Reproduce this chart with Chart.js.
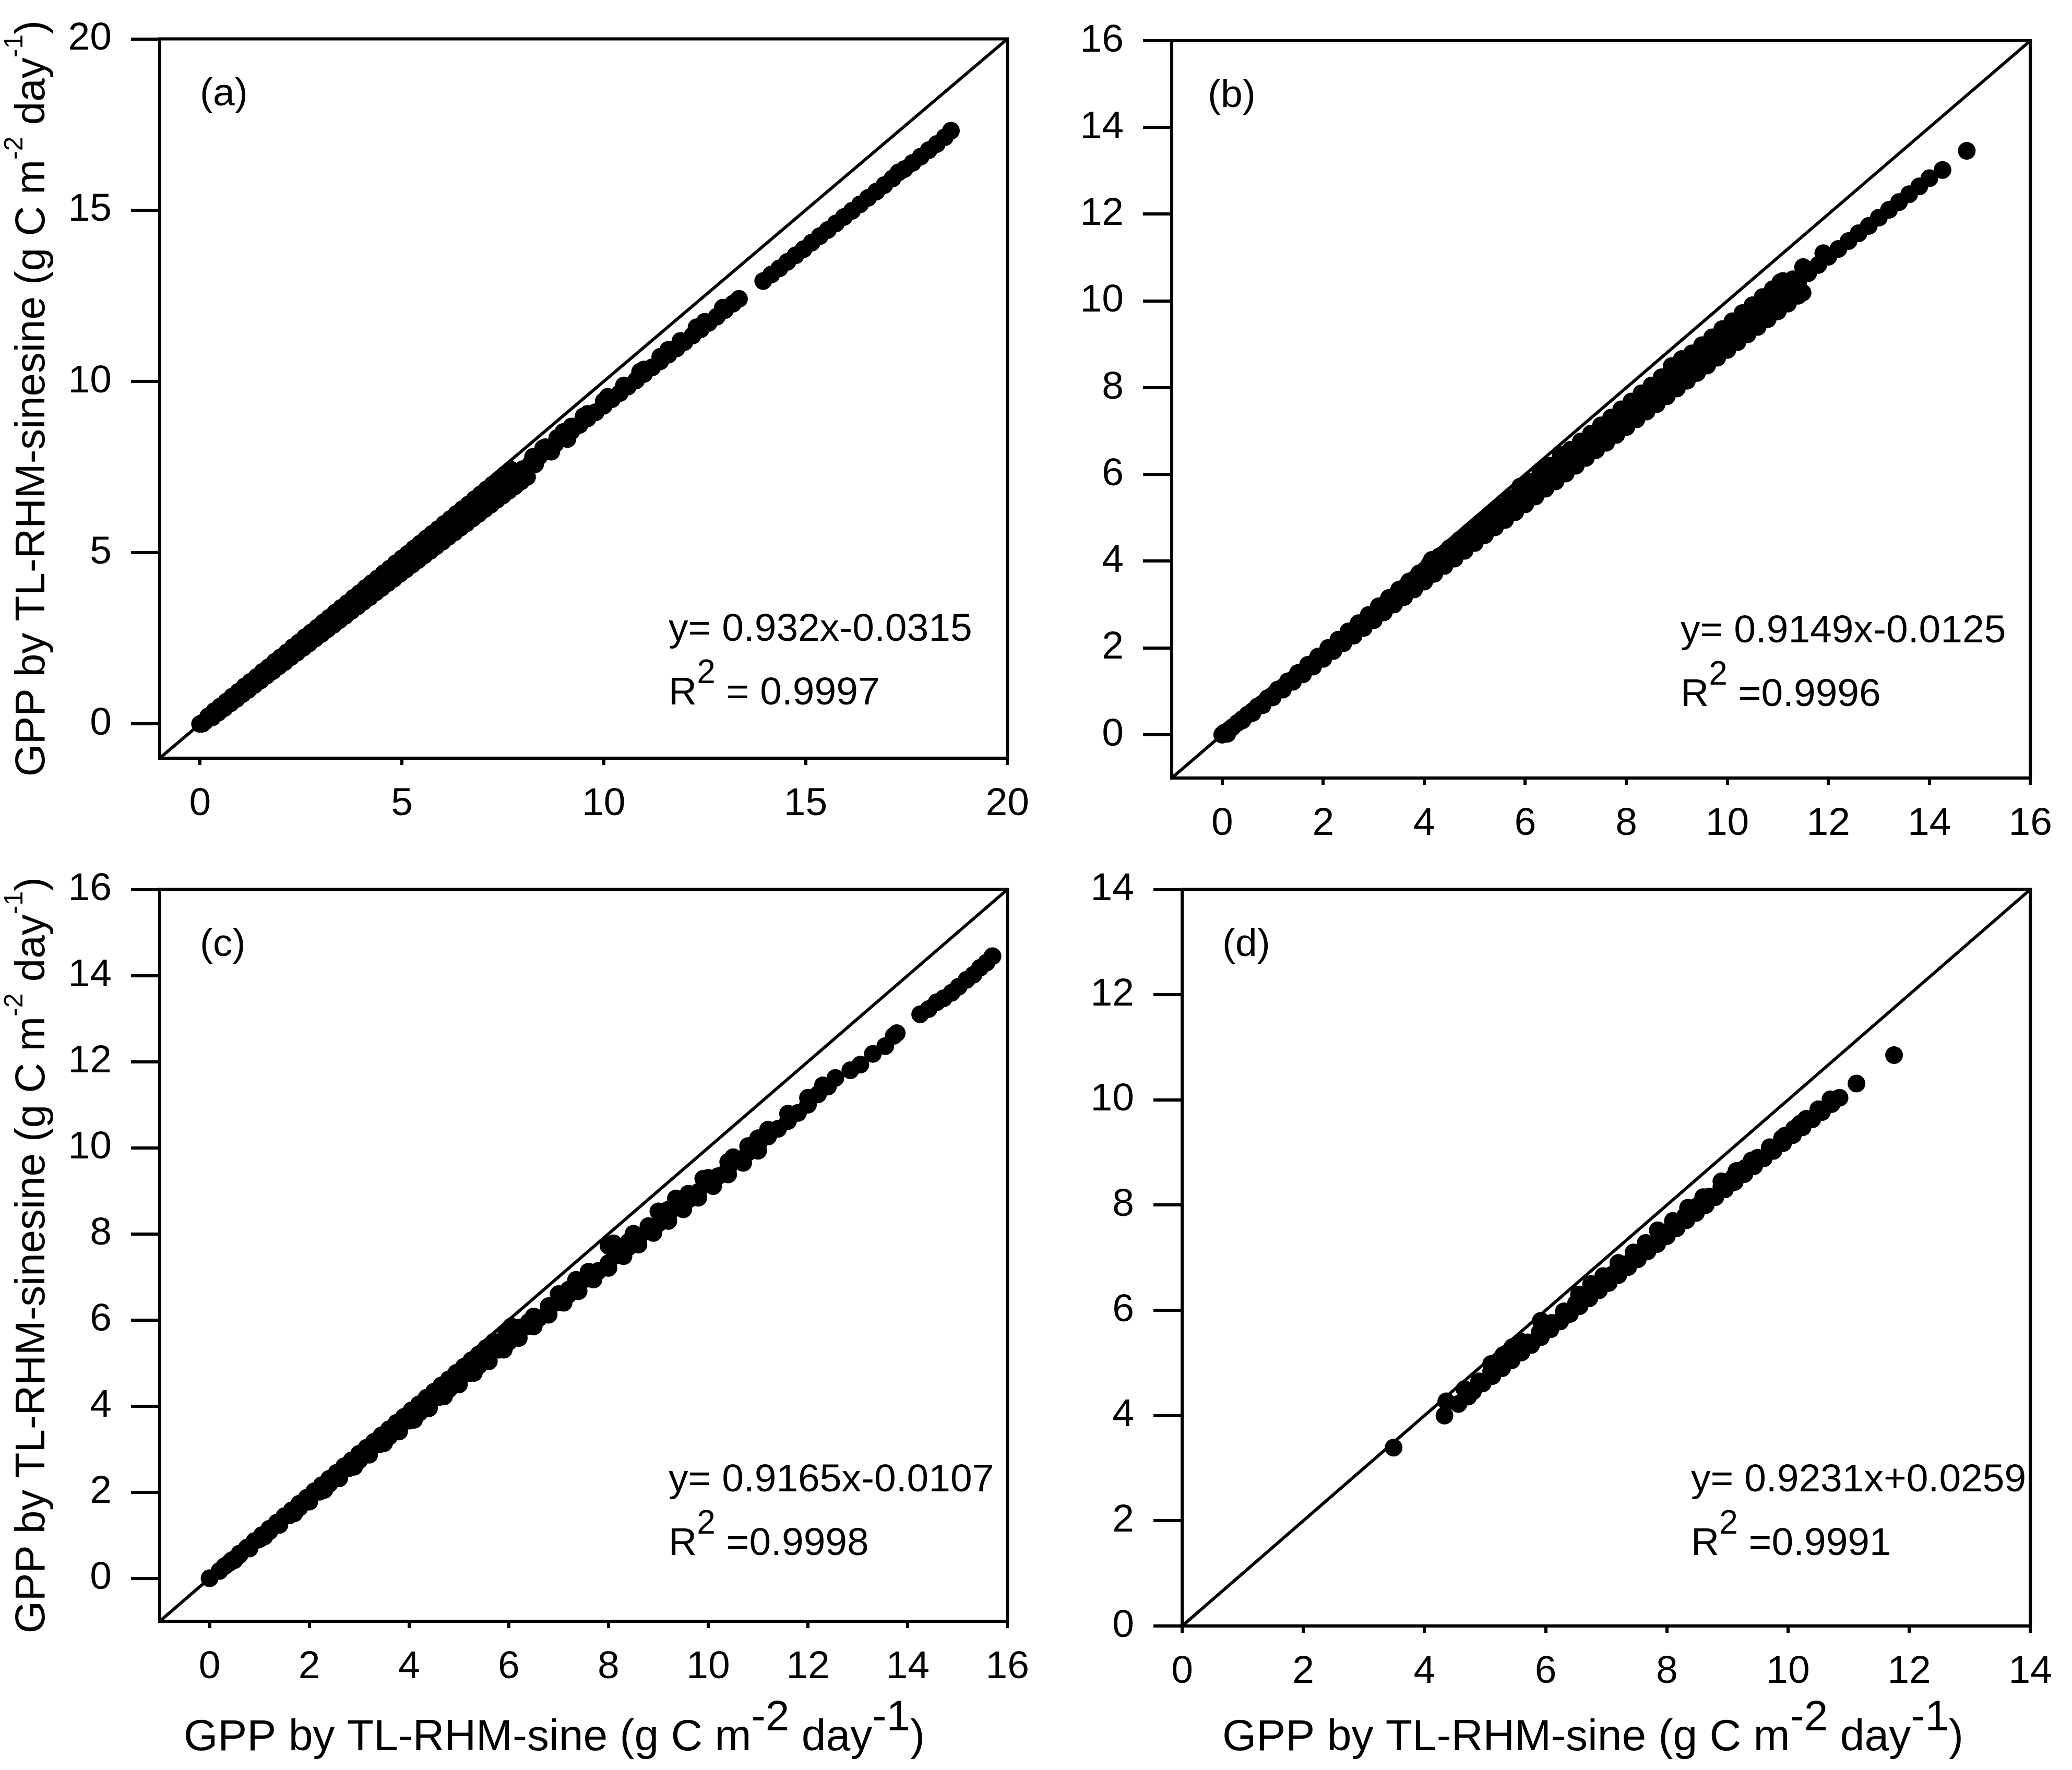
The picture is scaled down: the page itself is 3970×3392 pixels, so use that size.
<!DOCTYPE html>
<html>
<head>
<meta charset="utf-8">
<script src="https://cdn.jsdelivr.net/npm/chart.js@4.4.0/dist/chart.umd.min.js"></script>
<style>
  html, body { margin: 0; padding: 0; background: #fff; }
  body { width: 3970px; height: 3392px; position: relative; overflow: hidden; }
  canvas { position: absolute; }
</style>
</head>
<body>
<canvas id="pa"></canvas>
<canvas id="pb"></canvas>
<canvas id="pc"></canvas>
<canvas id="pd"></canvas>
<script>
// axis limits (also the ends of the 1:1 line) and tick values
const aRange = [-1, 20];
const bRange = [-1, 16];
const cRange = [-1, 16];
const dRange = [0, 14];
const aTicks = [0, 5, 10, 15, 20];
const bTicks = [0, 2, 4, 6, 8, 10, 12, 14, 16];
const cTicks = [0, 2, 4, 6, 8, 10, 12, 14, 16];
const dTicks = [0, 2, 4, 6, 8, 10, 12, 14];

// (a) GPP sine (x) vs sinesine (y)
const aX = [
  0, 0.06, 0.12, 0.2,
  0.35, 0.5, 0.65, 0.8, 0.95, 1.1, 1.25, 1.4, 1.55, 1.7,
  1.85, 2.0, 2.15, 2.3, 2.45, 2.6, 2.75, 2.9, 3.05, 3.2,
  3.35, 3.5, 3.65, 3.8, 3.95, 4.1, 4.25, 4.4, 4.55, 4.7,
  4.85, 5.0, 5.15, 5.3, 5.45, 5.6, 5.75, 5.9, 6.05, 6.2,
  6.35, 6.5, 6.65, 6.8, 6.95, 7.1, 7.25, 7.4, 7.55, 7.7,
  7.85, 8.0,
  8.2, 8.4, 8.6, 8.8, 9.0, 9.2, 9.4, 9.6, 9.8, 10.0,
  10.2, 10.4, 10.6, 10.8, 11.0, 11.2, 11.4, 11.6, 11.8, 12.0,
  12.2, 12.4, 12.6, 12.8, 13.0, 13.2, 13.35,
  8.5, 9.0, 9.5, 10.1, 10.9, 11.6, 12.3,
  8.25, 8.55, 8.85, 9.2, 9.6, 10.0, 10.5, 11.0, 11.4, 11.9,
  12.5, 12.95, 8.3, 8.7, 9.1,
  0.2, 0.35, 0.5, 0.65, 0.8, 0.95, 1.1, 1.25, 1.4, 1.55,
  1.7, 1.85, 2.0, 2.15, 2.3, 2.45, 2.6, 2.75, 2.9, 3.05,
  3.2, 3.35, 3.5, 3.65, 3.8, 3.95, 4.1, 4.25, 4.4, 4.55,
  4.7, 4.85, 5.0, 5.15, 5.3, 5.45, 5.6, 5.75, 5.9, 6.05,
  6.2, 6.35, 6.5, 6.65, 6.8, 6.95, 7.1, 7.25, 7.4, 7.55, 7.7,
  0.3, 0.45, 0.6, 0.75, 0.9, 1.05, 1.2, 1.35, 1.5, 1.65,
  1.8, 1.95, 2.1, 2.25, 2.4, 2.55, 2.7, 2.85, 3.0, 3.15,
  3.3, 3.45, 3.6, 3.75, 3.9, 4.05, 4.2, 4.35, 4.5, 4.65,
  4.8, 4.95, 5.1, 5.25, 5.4, 5.55, 5.7, 5.85, 6.0, 6.15,
  6.3, 6.45, 6.6, 6.75, 6.9, 7.05, 7.2, 7.35, 7.5, 7.65,
  7.8, 7.95, 8.1,
  13.95, 14.15, 14.35, 14.55, 14.75, 14.95, 15.15, 15.35, 15.55, 15.75,
  15.95, 16.15, 16.35, 16.55, 16.75, 16.95, 17.15, 17.3, 17.45, 17.65,
  17.85, 18.05, 18.25, 18.45, 18.6
];
const aY = [
  0, 0.01, 0.07, 0.16,
  0.30, 0.44, 0.58, 0.72, 0.86, 1.00, 1.14, 1.28, 1.42, 1.56,
  1.70, 1.84, 1.98, 2.12, 2.26, 2.40, 2.54, 2.68, 2.82, 2.96,
  3.10, 3.24, 3.38, 3.52, 3.66, 3.80, 3.94, 4.08, 4.22, 4.36,
  4.50, 4.64, 4.78, 4.92, 5.06, 5.20, 5.34, 5.48, 5.62, 5.76,
  5.90, 6.04, 6.18, 6.32, 6.46, 6.60, 6.74, 6.88, 7.02, 7.16,
  7.30, 7.44,
  7.62, 7.81, 7.99, 8.18, 8.36, 8.55, 8.73, 8.92, 9.10, 9.29,
  9.48, 9.66, 9.85, 10.03, 10.22, 10.41, 10.59, 10.78, 10.96, 11.15,
  11.34, 11.52, 11.71, 11.89, 12.08, 12.27, 12.41,
  8.05, 8.52, 8.98, 9.55, 10.28, 10.92, 11.58,
  7.80, 8.08, 8.35, 8.68, 9.05, 9.42, 9.88, 10.35, 10.72, 11.18,
  11.74, 12.15, 7.58, 7.95, 8.32,
  0.22, 0.37, 0.51, 0.65, 0.80, 0.94, 1.09, 1.23, 1.37, 1.52,
  1.66, 1.81, 1.95, 2.09, 2.24, 2.38, 2.53, 2.67, 2.81, 2.96,
  3.10, 3.25, 3.39, 3.53, 3.68, 3.82, 3.97, 4.11, 4.25, 4.40,
  4.54, 4.69, 4.83, 4.97, 5.12, 5.26, 5.41, 5.55, 5.69, 5.84,
  5.98, 6.13, 6.27, 6.41, 6.56, 6.70, 6.85, 6.99, 7.13, 7.28, 7.42,
  0.19, 0.33, 0.46, 0.60, 0.73, 0.87, 1.00, 1.14, 1.27, 1.41,
  1.54, 1.68, 1.81, 1.95, 2.08, 2.22, 2.35, 2.49, 2.62, 2.76,
  2.89, 3.03, 3.16, 3.30, 3.43, 3.57, 3.70, 3.84, 3.97, 4.11,
  4.24, 4.38, 4.51, 4.65, 4.78, 4.92, 5.05, 5.19, 5.32, 5.46,
  5.59, 5.73, 5.86, 6.00, 6.13, 6.27, 6.40, 6.54, 6.67, 6.81,
  6.94, 7.08, 7.21,
  12.93, 13.12, 13.30, 13.49, 13.68, 13.86, 14.05, 14.24, 14.42, 14.61,
  14.80, 14.98, 15.17, 15.36, 15.54, 15.73, 15.92, 16.10, 16.20, 16.38,
  16.56, 16.75, 16.93, 17.13, 17.32
];

// (b)
const bX = [
  0, 0.2, 0.4, 0.6, 0.8, 1.0, 1.2, 1.4, 1.6, 1.8,
  2.0, 2.2, 2.4, 2.6, 2.8, 3.0, 3.2, 3.4, 3.6, 3.8,
  4.0, 4.2, 4.4, 4.6, 4.8, 5.0, 5.2, 5.4, 5.6, 5.8,
  6.0, 6.2, 6.4, 6.6, 6.8, 7.0, 7.2, 7.4, 7.6, 7.8,
  8.0, 8.2, 8.4, 8.6, 8.8, 9.0, 9.2, 9.4, 9.6, 9.8,
  10.0, 10.2, 10.4, 10.6, 10.8, 11.0, 11.2, 11.4, 11.6, 11.8,
  12.0, 12.2, 12.4, 12.6, 12.8, 13.0, 13.2, 13.4, 13.6, 13.8,
  14.0, 14.26, 14.74,
  0.05, 0.1, 0.15,
  0.3, 0.5, 0.7, 0.9, 1.1, 1.3, 1.5, 1.7, 1.9, 2.1,
  2.3, 2.5, 2.7, 2.9, 3.1, 3.3, 3.5, 3.7, 3.9, 4.1,
  4.3, 4.5, 4.7, 4.9, 5.1, 5.3, 5.5, 5.7, 5.9,
  6.1, 6.3, 6.5, 6.7, 6.9, 7.1, 7.3, 7.5, 7.7, 7.9,
  8.1, 8.3, 8.5, 8.7, 8.9, 9.1, 9.3, 9.5, 9.7, 9.9,
  10.1, 10.3, 10.5, 10.7, 10.9, 11.1,
  2.3, 2.6, 2.9, 3.2, 3.5, 3.8, 4.1, 4.4, 4.7, 5.0,
  5.3, 5.6, 5.9, 6.2, 6.5, 6.8, 7.1, 7.4, 7.7, 8.0,
  8.3, 8.6, 8.9, 9.2, 9.5, 9.8, 10.1, 10.4, 10.7, 11.0,
  11.3,
  3.5, 3.8, 4.1, 4.4, 4.7, 5.0, 5.3, 5.6, 5.9, 6.2,
  6.5, 6.8, 7.1, 7.4, 7.7, 8.0, 8.3, 8.6, 8.9, 9.2,
  9.5, 9.8, 10.1, 10.4, 10.7, 11.0, 11.3,
  0.4, 0.6, 0.8, 1.0, 1.2, 1.4, 1.6, 1.8, 2.0, 2.2,
  2.4, 2.6, 2.8, 3.0, 3.2, 3.4, 3.6, 3.8, 4.0, 4.2,
  4.4, 4.6, 4.8, 5.0, 5.2, 5.4, 5.6, 5.8, 6.0, 6.2,
  6.4, 6.6, 6.8, 7.0, 7.2, 7.4, 7.6, 7.8, 8.0, 8.2,
  8.4, 8.6, 8.8, 9.0, 9.2, 9.4, 9.6, 9.8, 10.0, 10.2,
  10.4, 10.6, 10.8, 11.0, 11.2, 11.4,
  4.15, 5.9, 6.3, 6.7, 8.9, 9.1, 11.05, 11.5, 11.9, 11.49
];
const bY = [
  0.00, 0.17, 0.36, 0.54, 0.72, 0.91, 1.09, 1.27, 1.45, 1.64,
  1.82, 2.00, 2.19, 2.37, 2.55, 2.74, 2.92, 3.10, 3.28, 3.47,
  3.65, 3.83, 4.02, 4.20, 4.38, 4.57, 4.75, 4.93, 5.11, 5.30,
  5.48, 5.66, 5.85, 6.03, 6.21, 6.40, 6.58, 6.76, 6.94, 7.13,
  7.31, 7.49, 7.68, 7.86, 8.04, 8.23, 8.41, 8.59, 8.77, 8.96,
  9.14, 9.32, 9.51, 9.69, 9.87, 10.06, 10.24, 10.42, 10.64, 10.83,
  11.02, 11.20, 11.38, 11.56, 11.73, 11.92, 12.10, 12.28, 12.46, 12.64,
  12.83, 13.02, 13.46,
  0.05, 0.02, 0.12,
  0.27, 0.46, 0.65, 0.84, 1.04, 1.23, 1.42, 1.61, 1.80, 2.00,
  2.19, 2.38, 2.57, 2.76, 2.96, 3.15, 3.34, 3.53, 3.72, 3.92,
  4.11, 4.30, 4.49, 4.68, 4.88, 5.07, 5.26, 5.45, 5.64,
  5.83, 6.02, 6.20, 6.39, 6.57, 6.76, 6.94, 7.13, 7.31, 7.50,
  7.68, 7.87, 8.05, 8.24, 8.42, 8.61, 8.79, 8.98, 9.16, 9.35,
  9.53, 9.72, 9.90, 10.09, 10.27, 10.46,
  2.13, 2.41, 2.69, 2.97, 3.25, 3.52, 3.80, 4.08, 4.36, 4.64,
  4.92, 5.20, 5.48, 5.76, 6.04, 6.31, 6.59, 6.87, 7.15, 7.43,
  7.71, 7.99, 8.27, 8.55, 8.83, 9.10, 9.38, 9.66, 9.94, 10.22,
  10.50,
  3.14, 3.41, 3.68, 3.95, 4.22, 4.49, 4.76, 5.03, 5.30, 5.57,
  5.84, 6.11, 6.38, 6.65, 6.92, 7.19, 7.46, 7.73, 8.00, 8.27,
  8.54, 8.81, 9.08, 9.35, 9.62, 9.89, 10.16,
  0.33, 0.50, 0.68, 0.86, 1.04, 1.22, 1.39, 1.57, 1.75, 1.93,
  2.11, 2.28, 2.46, 2.64, 2.82, 3.00, 3.17, 3.35, 3.53, 3.71,
  3.89, 4.06, 4.24, 4.42, 4.60, 4.78, 4.95, 5.13, 5.31, 5.49,
  5.67, 5.84, 6.02, 6.20, 6.38, 6.56, 6.73, 6.91, 7.09, 7.27,
  7.45, 7.62, 7.80, 7.98, 8.16, 8.34, 8.51, 8.69, 8.87, 9.05,
  9.23, 9.40, 9.58, 9.76, 9.94, 10.12,
  4.03, 5.72, 6.08, 6.45, 8.50, 8.66, 10.43, 10.78, 11.10, 10.19
];

// (c)
const cX = [
  0, 0.2, 0.4, 0.6, 0.8, 1.0, 1.2, 1.4, 1.6, 1.8,
  2.0, 2.2, 2.4, 2.6, 2.8, 3.0, 3.2, 3.4, 3.6, 3.8,
  4.0, 4.2, 4.4, 4.6, 4.8, 5.0, 5.2, 5.4, 5.6, 5.8,
  6.0, 6.2, 6.4, 6.6, 6.8, 7.0, 7.2, 7.4, 7.6, 7.8,
  8.0, 8.2, 8.4, 8.6, 8.8, 9.0, 9.2, 9.4, 9.6, 9.8,
  10.0, 10.2, 10.4, 10.6, 10.8, 11.0, 11.2, 11.4, 11.6, 11.8,
  12.0, 12.2, 12.4, 12.55,
  12.85, 13.05, 13.3, 13.55, 13.72, 13.78, 14.25, 14.42, 14.58, 14.72,
  14.88, 15.02, 15.18, 15.32, 15.45, 15.58, 15.7,
  0.3, 0.45, 0.6, 0.75, 0.9, 1.05, 1.2, 1.35, 1.5, 1.65,
  1.8, 1.95, 2.1, 2.25, 2.4, 2.55, 2.7, 2.85, 3.0, 3.15,
  3.3, 3.45, 3.6, 3.75, 3.9, 4.05, 4.2, 4.35, 4.5, 4.65,
  4.8, 4.95, 5.1, 5.25, 5.4, 5.55, 5.7,
  5.95, 6.05, 6.2, 6.5, 7.0, 7.35, 7.6, 8.0, 8.1, 8.5,
  9.0, 9.35, 9.9, 10.5, 11.0,
  6.4, 6.8, 7.2, 7.6, 8.4, 8.8, 9.2, 9.6, 10.0, 10.4,
  10.8, 11.2, 11.6, 12.0, 12.3,
  0.5, 0.8, 1.1, 1.4, 1.7, 2.0, 2.3, 2.6, 2.9, 3.2,
  3.5, 3.8, 4.1, 4.4, 4.7, 5.0, 5.3, 5.6, 5.9, 6.2,
  6.5, 6.8, 7.1, 7.4, 7.7, 8.0, 8.3, 8.6, 8.9, 9.2,
  9.5, 9.8, 10.1, 10.4, 10.7, 11.0
];
const cY = [
  0.00, 0.17, 0.36, 0.54, 0.72, 0.91, 1.09, 1.27, 1.46, 1.64,
  1.82, 2.01, 2.19, 2.37, 2.56, 2.74, 2.92, 3.11, 3.29, 3.47,
  3.66, 3.84, 4.02, 4.21, 4.39, 4.57, 4.76, 4.94, 5.12, 5.31,
  5.49, 5.67, 5.86, 6.04, 6.22, 6.41, 6.59, 6.77, 6.96, 7.14,
  7.32, 7.51, 7.69, 7.87, 8.06, 8.24, 8.42, 8.61, 8.79, 8.97,
  9.16, 9.34, 9.52, 9.71, 9.89, 10.07, 10.26, 10.44, 10.62, 10.81,
  11.00, 11.24, 11.42, 11.62,
  11.80, 11.93, 12.18, 12.36, 12.60, 12.66, 13.10, 13.22, 13.38, 13.47,
  13.60, 13.74, 13.90, 14.02, 14.18, 14.30, 14.45,
  0.28, 0.42, 0.57, 0.71, 0.86, 1.00, 1.15, 1.29, 1.44, 1.58,
  1.73, 1.87, 2.02, 2.16, 2.31, 2.45, 2.60, 2.74, 2.89, 3.03,
  3.17, 3.32, 3.46, 3.61, 3.75, 3.90, 4.04, 4.19, 4.33, 4.48,
  4.62, 4.77, 4.91, 5.06, 5.20, 5.35, 5.49,
  5.72, 5.85, 5.82, 6.08, 6.60, 6.93, 7.12, 7.72, 7.78, 8.00,
  8.52, 8.82, 9.28, 9.78, 10.22,
  5.95, 6.32, 6.70, 7.07, 7.81, 8.18, 8.56, 8.93, 9.30, 9.67,
  10.04, 10.42, 10.79, 11.16, 11.45,
  0.42, 0.69, 0.97, 1.24, 1.51, 1.78, 2.05, 2.32, 2.59, 2.87,
  3.14, 3.41, 3.68, 3.95, 4.22, 4.50, 4.77, 5.04, 5.31, 5.58,
  5.85, 6.12, 6.40, 6.67, 6.94, 7.21, 7.48, 7.75, 8.02, 8.30,
  8.57, 8.84, 9.11, 9.38, 9.65, 9.93
];

// (d)
const dX = [
  3.49, 4.33, 4.36, 4.56, 4.66, 4.72,
  4.8, 4.96, 5.12, 5.28, 5.44, 5.6, 5.76, 5.92, 6.08, 6.24,
  6.4, 6.56, 6.72, 6.88, 7.04, 7.2, 7.36, 7.52, 7.68, 7.84,
  8.0, 8.16, 8.32, 8.48, 8.64, 8.8, 8.96, 9.12, 9.28, 9.44,
  9.6, 9.76, 9.92, 10.08, 10.24, 10.4, 10.56, 10.72, 10.85,
  5.1, 5.3, 5.45, 5.6, 5.92, 6.05, 6.3, 6.55, 6.75, 6.95,
  7.2, 7.45, 7.65, 7.85, 8.1, 8.35, 8.6, 8.9, 9.15, 9.4,
  9.7, 9.95, 10.2, 10.5,
  4.9, 5.1, 5.3, 5.5, 5.7, 5.9, 6.1, 6.3, 6.5, 6.7,
  6.9, 7.1, 7.3, 7.5, 7.7, 7.9, 8.1, 8.3, 8.5, 8.7,
  8.9, 9.1, 9.3, 9.5, 9.7, 9.9, 10.1, 10.3, 10.5, 10.7,
  11.13, 11.75
];
const dY = [
  3.39, 4.00, 4.27, 4.22, 4.50, 4.36,
  4.46, 4.61, 4.75, 4.90, 5.05, 5.20, 5.34, 5.49, 5.64, 5.79,
  5.93, 6.08, 6.23, 6.38, 6.52, 6.67, 6.82, 6.97, 7.12, 7.26,
  7.41, 7.56, 7.71, 7.85, 8.00, 8.15, 8.30, 8.44, 8.59, 8.74,
  8.89, 9.03, 9.18, 9.33, 9.48, 9.63, 9.77, 9.92, 10.04,
  4.98, 5.15, 5.30, 5.40, 5.80, 5.72, 5.98, 6.30, 6.50, 6.65,
  6.90, 7.10, 7.28, 7.52, 7.70, 7.95, 8.15, 8.45, 8.65, 8.85,
  9.10, 9.32, 9.55, 9.82,
  4.65, 4.84, 5.02, 5.21, 5.39, 5.58, 5.76, 5.95, 6.13, 6.31,
  6.50, 6.68, 6.87, 7.05, 7.24, 7.42, 7.61, 7.79, 7.98, 8.16,
  8.35, 8.53, 8.71, 8.90, 9.08, 9.27, 9.45, 9.64, 9.82, 10.01,
  10.31, 10.85
];

const panelLabels = ['(a)', '(b)', '(c)', '(d)'];
const equations = ['y= 0.932x-0.0315', 'y= 0.9149x-0.0125', 'y= 0.9165x-0.0107', 'y= 0.9231x+0.0259'];
const r2Values = [' = 0.9997', ' =0.9996', ' =0.9998', ' =0.9991'];
const yTitleParts = [['GPP by TL-RHM-sinesine (g C m', 0], ['-2', 1], [' day', 0], ['-1', 1], [')', 0]];
const xTitleParts = [['GPP by TL-RHM-sine (g C m', 0], ['-2', 1], [' day', 0], ['-1', 1], [')', 0]];

const FONT = '"Liberation Sans", Arial, sans-serif';

// canvas box and plot area in page pixels: [left, top, right, bottom]
const panels = [
  { id: 'pa', box: [0, 0, 2010, 1630], area: [306, 40, 1960, 1453], range: aRange, ticks: aTicks, xs: aX, ys: aY, labelDx: 77, yTitle: true, xTitle: false },
  { id: 'pb', box: [2010, 0, 3970, 1630], area: [2245, 78, 3900, 1491], range: bRange, ticks: bTicks, xs: bX, ys: bY, labelDx: 69, yTitle: false, xTitle: false },
  { id: 'pc', box: [0, 1630, 2010, 3392], area: [306, 1695, 1960, 3107], range: cRange, ticks: cTicks, xs: cX, ys: cY, labelDx: 77, yTitle: true, xTitle: true, xTitleDx: 46 },
  { id: 'pd', box: [2010, 1630, 3970, 3392], area: [2265, 1703, 3919, 3116], range: dRange, ticks: dTicks, xs: dX, ys: dY, labelDx: 77, yTitle: false, xTitle: true, xTitleDx: 77 }
];

function drawRich(ctx, parts, x, y, size, supSize, rise) {
  let cx = x;
  parts.forEach(([t, sup]) => {
    ctx.font = (sup ? supSize : size) + 'px ' + FONT;
    ctx.fillText(t, cx, sup ? y - rise : y);
    cx += ctx.measureText(t).width;
  });
  return cx - x;
}

function richWidth(ctx, parts, size, supSize) {
  let w = 0;
  parts.forEach(([t, sup]) => {
    ctx.font = (sup ? supSize : size) + 'px ' + FONT;
    w += ctx.measureText(t).width;
  });
  return w;
}

function makeTextPlugin(p, i) {
  return {
    id: 'panelText' + i,
    afterDraw(chart) {
      const ctx = chart.ctx;
      const a = chart.chartArea;
      ctx.save();
      // frame round the plot area
      ctx.strokeStyle = '#000';
      ctx.lineWidth = 6;
      ctx.strokeRect(a.left, a.top, a.right - a.left, a.bottom - a.top);

      ctx.fillStyle = '#000';
      ctx.textAlign = 'left';
      ctx.textBaseline = 'alphabetic';
      ctx.font = '75px ' + FONT;
      ctx.fillText(panelLabels[i], a.left + p.labelDx, a.top + 127);
      ctx.fillText(equations[i], a.left + 975, a.top + 1153);
      drawRich(ctx, [['R', 0], ['2', 1], [r2Values[i], 0]], a.left + 975, a.top + 1275, 75, 64, 41);

      if (p.yTitle) {
        ctx.save();
        ctx.translate(85 - p.box[0], (a.top + a.bottom) / 2);
        ctx.rotate(-Math.PI / 2);
        const w = richWidth(ctx, yTitleParts, 80, 50);
        drawRich(ctx, yTitleParts, -w / 2, 0, 80, 50, 42);
        ctx.restore();
      }
      if (p.xTitle) {
        drawRich(ctx, xTitleParts, a.left + p.xTitleDx, 3354 - p.box[1], 84, 82, 38);
      }
      ctx.restore();
    }
  };
}

panels.forEach((p, i) => {
  const canvas = document.getElementById(p.id);
  const w = p.box[2] - p.box[0];
  const h = p.box[3] - p.box[1];
  canvas.width = w;
  canvas.height = h;
  canvas.style.left = p.box[0] + 'px';
  canvas.style.top = p.box[1] + 'px';
  canvas.style.width = w + 'px';
  canvas.style.height = h + 'px';

  const yAxisWidth = p.area[0] - p.box[0];
  const xAxisHeight = p.box[3] - p.area[3];
  const tickFont = { family: FONT, size: 75, lineHeight: 1 };

  new Chart(canvas.getContext('2d'), {
    type: 'scatter',
    data: {
      datasets: [
        {
          data: p.xs.map((x, k) => ({ x: x, y: p.ys[k] })),
          pointRadius: 17,
          pointHoverRadius: 17,
          pointBackgroundColor: '#000',
          pointBorderColor: '#000',
          pointBorderWidth: 0
        },
        {
          // 1:1 line
          data: p.range.map(v => ({ x: v, y: v })),
          showLine: true,
          borderColor: '#000',
          borderWidth: 6,
          pointRadius: 0,
          fill: false
        }
      ]
    },
    options: {
      responsive: false,
      animation: false,
      devicePixelRatio: 1,
      events: [],
      elements: { point: { radius: 17, hoverRadius: 17 } },
      layout: { padding: { top: p.area[1] - p.box[1], right: p.box[2] - p.area[2], left: 0, bottom: 0 } },
      plugins: { legend: { display: false }, tooltip: { enabled: false } },
      scales: {
        x: {
          type: 'linear',
          min: p.range[0],
          max: p.range[1],
          afterFit: s => { s.height = xAxisHeight; },
          afterBuildTicks: s => { s.ticks = p.ticks.map(v => ({ value: v })); },
          grid: { drawOnChartArea: false, drawTicks: true, tickLength: 13, color: '#000', lineWidth: 6 },
          border: { display: true, color: '#000', width: 6 },
          ticks: { color: '#000', padding: 38, font: tickFont, maxRotation: 0, autoSkip: false }
        },
        y: {
          type: 'linear',
          min: p.range[0],
          max: p.range[1],
          afterFit: s => { s.width = yAxisWidth; },
          afterBuildTicks: s => { s.ticks = p.ticks.map(v => ({ value: v })); },
          grid: { drawOnChartArea: false, drawTicks: true, tickLength: 55, color: '#000', lineWidth: 6 },
          border: { display: true, color: '#000', width: 6 },
          ticks: { color: '#000', padding: 37, font: tickFont, autoSkip: false }
        }
      }
    },
    plugins: [makeTextPlugin(p, i)]
  });
});
</script>
</body>
</html>
